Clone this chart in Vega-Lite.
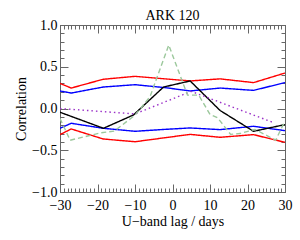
{
  "$schema": "https://vega.github.io/schema/vega-lite/v6.json",
  "autosize": "none",
  "width": 225,
  "height": 167,
  "padding": {"left": 60, "top": 25, "right": 15, "bottom": 48},
  "background": "white",
  "title": {"text": "ARK 120", "font": "Liberation Serif", "fontSize": 14, "fontWeight": "normal", "color": "black", "offset": 0, "dy": 5},
  "config": {
    "view": {"stroke": null},
    "axis": {"domainColor": "#666", "tickColor": "#666", "labelFont": "Liberation Serif", "titleFont": "Liberation Serif", "labelColor": "black", "titleColor": "black", "labelFontSize": 14, "titleFontSize": 14, "titleFontWeight": "normal", "grid": false}
  },
  "data": {"values": [
    {"s": "rh", "x": -30, "y": 0.30}, {"s": "rh", "x": -27, "y": 0.245}, {"s": "rh", "x": -18.5, "y": 0.35}, {"s": "rh", "x": -10, "y": 0.385}, {"s": "rh", "x": -2, "y": 0.355}, {"s": "rh", "x": 4.7, "y": 0.33}, {"s": "rh", "x": 12.7, "y": 0.355}, {"s": "rh", "x": 21.6, "y": 0.31}, {"s": "rh", "x": 30, "y": 0.425},
    {"s": "bh", "x": -30, "y": 0.21}, {"s": "bh", "x": -27, "y": 0.185}, {"s": "bh", "x": -18.5, "y": 0.257}, {"s": "bh", "x": -10, "y": 0.285}, {"s": "bh", "x": -2, "y": 0.25}, {"s": "bh", "x": 4.7, "y": 0.21}, {"s": "bh", "x": 12.7, "y": 0.245}, {"s": "bh", "x": 21.6, "y": 0.217}, {"s": "bh", "x": 30, "y": 0.31},
    {"s": "bl", "x": -30, "y": -0.237}, {"s": "bl", "x": -27, "y": -0.177}, {"s": "bl", "x": -18.5, "y": -0.237}, {"s": "bl", "x": -10, "y": -0.273}, {"s": "bl", "x": -2, "y": -0.25}, {"s": "bl", "x": 4.7, "y": -0.233}, {"s": "bl", "x": 12.7, "y": -0.253}, {"s": "bl", "x": 21.6, "y": -0.213}, {"s": "bl", "x": 30, "y": -0.265},
    {"s": "rl", "x": -30, "y": -0.313}, {"s": "rl", "x": -27, "y": -0.245}, {"s": "rl", "x": -18.5, "y": -0.365}, {"s": "rl", "x": -10, "y": -0.398}, {"s": "rl", "x": -2, "y": -0.35}, {"s": "rl", "x": 4.7, "y": -0.31}, {"s": "rl", "x": 12.7, "y": -0.345}, {"s": "rl", "x": 21.6, "y": -0.313}, {"s": "rl", "x": 30, "y": -0.405},
    {"s": "k", "x": -30, "y": -0.045}, {"s": "k", "x": -18.4, "y": -0.237}, {"s": "k", "x": -10.4, "y": -0.077}, {"s": "k", "x": -2.4, "y": 0.257}, {"s": "k", "x": 4.7, "y": 0.33}, {"s": "k", "x": 12.7, "y": -0.024}, {"s": "k", "x": 21.6, "y": -0.273}, {"s": "k", "x": 30, "y": -0.193},
    {"s": "p", "x": -30, "y": 0.0}, {"s": "p", "x": -10, "y": -0.065}, {"s": "p", "x": 5, "y": 0.205}, {"s": "p", "x": 27, "y": -0.17},
    {"s": "g", "x": -30, "y": -0.12}, {"s": "g", "x": -27.3, "y": -0.38}, {"s": "g", "x": -19, "y": -0.29}, {"s": "g", "x": -15.5, "y": -0.27}, {"s": "g", "x": -10, "y": -0.08}, {"s": "g", "x": -6, "y": 0.14}, {"s": "g", "x": -1, "y": 0.76}, {"s": "g", "x": 4, "y": 0.16}, {"s": "g", "x": 7, "y": 0.16}, {"s": "g", "x": 10, "y": -0.07}, {"s": "g", "x": 12, "y": -0.11}, {"s": "g", "x": 15.5, "y": -0.31}, {"s": "g", "x": 18, "y": -0.3}, {"s": "g", "x": 22, "y": -0.25}, {"s": "g", "x": 27.5, "y": -0.38}, {"s": "g", "x": 30, "y": -0.15}
  ]},
  "resolve": {"scale": {"x": "shared", "y": "shared"}, "axis": {"x": "independent", "y": "independent"}},
  "layer": [
    {
      "mark": {"type": "line", "strokeWidth": 1.4, "clip": true},
      "encoding": {
        "x": {"field": "x", "type": "quantitative", "scale": {"domain": [-30, 30], "nice": false, "zero": false},
              "axis": {"orient": "bottom", "values": [-30, -20, -10, 0, 10, 20, 30], "tickSize": -8, "labelPadding": 14, "title": "U\u2212band lag / days", "titlePadding": 2, "format": "d", "labelFlush": false}},
        "y": {"field": "y", "type": "quantitative", "scale": {"domain": [-1, 1], "nice": false},
              "axis": {"orient": "left", "values": [-1, -0.5, 0, 0.5, 1], "tickSize": -8, "labelPadding": 11, "format": ".1f", "title": "Correlation", "titlePadding": 3}},
        "color": {"field": "s", "type": "nominal", "legend": null,
                  "scale": {"domain": ["rh", "rl", "bh", "bl", "k", "p", "g"], "range": ["#ff0000", "#ff0000", "#0000ff", "#0000ff", "#000000", "#9a30c8", "#9cc89c"]}},
        "strokeDash": {"field": "s", "type": "nominal", "legend": null,
                  "scale": {"domain": ["rh", "rl", "bh", "bl", "k", "p", "g"], "range": [[1, 0], [1, 0], [1, 0], [1, 0], [1, 0], [1.5, 3], [5, 3]]}},
        "detail": {"field": "s"}
      }
    },
    {
      "mark": {"type": "point", "opacity": 0},
      "encoding": {
        "x": {"field": "x", "type": "quantitative", "axis": {"orient": "bottom", "values": [-30,-29,-28,-27,-26,-25,-24,-23,-22,-21,-20,-19,-18,-17,-16,-15,-14,-13,-12,-11,-10,-9,-8,-7,-6,-5,-4,-3,-2,-1,0,1,2,3,4,5,6,7,8,9,10,11,12,13,14,15,16,17,18,19,20,21,22,23,24,25,26,27,28,29,30], "tickSize": -4, "labels": false, "title": null}},
        "y": {"field": "y", "type": "quantitative", "axis": {"orient": "left", "values": [-1,-0.9,-0.8,-0.7,-0.6,-0.5,-0.4,-0.3,-0.2,-0.1,0,0.1,0.2,0.3,0.4,0.5,0.6,0.7,0.8,0.9,1], "tickSize": -4, "labels": false, "title": null}}
      }
    },
    {
      "mark": {"type": "point", "opacity": 0},
      "encoding": {
        "x": {"field": "x", "type": "quantitative", "axis": {"orient": "top", "values": [-30, -20, -10, 0, 10, 20, 30], "tickSize": -8, "labels": false, "title": null}},
        "y": {"field": "y", "type": "quantitative", "axis": {"orient": "right", "values": [-1, -0.5, 0, 0.5, 1], "tickSize": -8, "labels": false, "title": null}}
      }
    },
    {
      "mark": {"type": "point", "opacity": 0},
      "encoding": {
        "x": {"field": "x", "type": "quantitative", "axis": {"orient": "top", "values": [-30,-29,-28,-27,-26,-25,-24,-23,-22,-21,-20,-19,-18,-17,-16,-15,-14,-13,-12,-11,-10,-9,-8,-7,-6,-5,-4,-3,-2,-1,0,1,2,3,4,5,6,7,8,9,10,11,12,13,14,15,16,17,18,19,20,21,22,23,24,25,26,27,28,29,30], "tickSize": -4, "labels": false, "title": null}},
        "y": {"field": "y", "type": "quantitative", "axis": {"orient": "right", "values": [-1,-0.9,-0.8,-0.7,-0.6,-0.5,-0.4,-0.3,-0.2,-0.1,0,0.1,0.2,0.3,0.4,0.5,0.6,0.7,0.8,0.9,1], "tickSize": -4, "labels": false, "title": null}}
      }
    }
  ]
}
